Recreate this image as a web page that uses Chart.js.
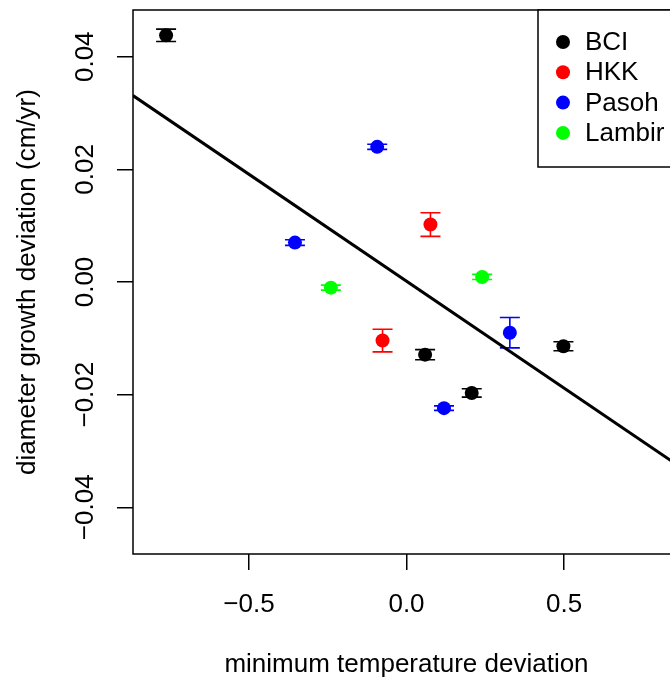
<!DOCTYPE html>
<html>
<head>
<meta charset="utf-8">
<script src="https://cdn.jsdelivr.net/npm/chart.js@4.4.1/dist/chart.umd.min.js"></script>
<style>
  html, body { margin: 0; padding: 0; overflow: hidden; background: #fff; }
</style>
</head>
<body>
<canvas id="myChart" width="690" height="680"></canvas>
<script>
// sites shown in the legend, with their point colours
const siteNames = ['BCI', 'HKK', 'Pasoh', 'Lambir'];
const siteColors = ['#000000', '#ff0000', '#0000ff', '#00ff00'];

// minimum temperature deviation per census interval (x)
const bciX = [-0.763, 0.059, 0.207, 0.498];
const hkkX = [0.076, -0.076];
const pasohX = [-0.093, -0.354, 0.119, 0.328];
const lambirX = [-0.240, 0.240];

// diameter growth deviation in cm/yr (y)
const bciY = [0.0438, -0.0129, -0.0197, -0.0114];
const hkkY = [0.0102, -0.0104];
const pasohY = [0.0240, 0.0070, -0.0224, -0.0090];
const lambirY = [-0.0010, 0.0009];

// half length of the error bars
const bciErr = [0.0011, 0.0009, 0.00075, 0.0008];
const hkkErr = [0.0021, 0.0020];
const pasohErr = [0.00045, 0.0005, 0.0004, 0.0027];
const lambirErr = [0.00045, 0.00045];

// fitted regression line, end points
const fitX = [-0.868, 0.868];
const fitY = [0.0331, -0.0328];

// axis ticks
const xTicks = [-0.5, 0, 0.5];
const yTicks = [-0.04, -0.02, 0, 0.02, 0.04];

const FONT = '"Liberation Sans", Arial, Helvetica, sans-serif';

// join x and y lists into {x, y} points
function toPoints (xs, ys) { return xs.map((x, i) => ({ x: x, y: ys[i] })); }

// R prints a real minus sign
function minus (s) { return s.replace('-', '\u2212'); }

function siteDataset (i, xs, ys, errs) {
    return {
        type: 'scatter',
        label: siteNames[i],
        data: toPoints(xs, ys),
        errors: errs,
        backgroundColor: siteColors[i],
        borderColor: siteColors[i],
        borderWidth: 0,
        pointRadius: 7,
        pointHoverRadius: 7,
    };
}

// vertical error bars with caps, under the points
const errorBars = {
    id: 'errorBars',
    beforeDatasetsDraw (chart) {
        const ctx = chart.ctx, xs = chart.scales.x, ys = chart.scales.y;
        chart.data.datasets.forEach((ds) => {
            if (!ds.errors) return;
            ctx.save();
            ctx.strokeStyle = ds.borderColor; ctx.lineWidth = 1.6;
            ds.data.forEach((p, i) => {
                const px = xs.getPixelForValue(p.x);
                const top = ys.getPixelForValue(p.y + ds.errors[i]);
                const bot = ys.getPixelForValue(p.y - ds.errors[i]);
                ctx.beginPath();
                ctx.moveTo(px, top); ctx.lineTo(px, bot);
                ctx.moveTo(px - 10, top); ctx.lineTo(px + 10, top);
                ctx.moveTo(px - 10, bot); ctx.lineTo(px + 10, bot);
                ctx.stroke();
            });
            ctx.restore();
        });
    }
};

// plot box and the boxed legend in the top right corner
const boxLegend = {
    id: 'boxLegend',
    afterDraw (chart) {
        const ctx = chart.ctx, a = chart.chartArea;
        ctx.save();
        ctx.strokeStyle = '#000'; ctx.lineWidth = 1.5;
        ctx.strokeRect(a.left, a.top, a.right - a.left, a.bottom - a.top);
        ctx.fillStyle = '#fff';
        ctx.fillRect(538, a.top, a.right - 538, 157);
        ctx.strokeRect(538, a.top, a.right - 538, 157);
        ctx.font = '26px ' + FONT;
        ctx.textBaseline = 'middle';
        siteNames.forEach((name, i) => {
            const y = a.top + 32 + i * 30.3;
            ctx.fillStyle = siteColors[i];
            ctx.beginPath(); ctx.arc(563, y, 7, 0, Math.PI * 2); ctx.fill();
            ctx.fillStyle = '#000';
            ctx.fillText(name, 585, y + 1);
        });
        ctx.restore();
    }
};

new Chart('myChart', {
    data: {
        datasets: [
            {
                type: 'line',
                label: 'fit',
                data: toPoints(fitX, fitY),
                borderColor: '#000',
                borderWidth: 3,
                pointRadius: 0,
                fill: false,
            },
            siteDataset(0, bciX, bciY, bciErr),
            siteDataset(1, hkkX, hkkY, hkkErr),
            siteDataset(2, pasohX, pasohY, pasohErr),
            siteDataset(3, lambirX, lambirY, lambirErr),
        ]
    },
    options: {
        responsive: false,
        animation: false,
        devicePixelRatio: 1,
        layout: { padding: { left: 0, top: 10, right: 10, bottom: 0 } },
        plugins: { legend: { display: false }, tooltip: { enabled: false } },
        scales: {
            x: {
                type: 'linear',
                min: -0.868, max: 0.868,
                afterBuildTicks: (s) => { s.ticks = xTicks.map((v) => ({ value: v })); },
                afterFit: (s) => { s.height = 126; s.paddingLeft = 0; s.paddingRight = 0; },
                border: { display: false },
                grid: { drawOnChartArea: false, tickLength: 16, color: '#000', lineWidth: 1.5 },
                ticks: {
                    color: '#000', padding: 19, maxRotation: 0,
                    font: { family: FONT, size: 26 },
                    callback: (v) => minus(v.toFixed(1)),
                },
                title: {
                    display: true, text: 'minimum temperature deviation', color: '#000',
                    font: { family: FONT, size: 26, lineHeight: 1.2 },
                    padding: { top: 0, bottom: 0 },
                },
            },
            y: {
                type: 'linear',
                min: -0.0483, max: 0.0483,
                afterBuildTicks: (s) => { s.ticks = yTicks.map((v) => ({ value: v })); },
                afterFit: (s) => { s.width = 133; s.paddingTop = 0; s.paddingBottom = 0; },
                border: { display: false },
                grid: { drawOnChartArea: false, tickLength: 16, color: '#000', lineWidth: 1.5 },
                ticks: {
                    color: '#000', padding: -2, autoSkip: false,
                    minRotation: 90, maxRotation: 90, crossAlign: 'center',
                    font: { family: FONT, size: 26 },
                    callback: (v) => minus(v.toFixed(2)),
                },
                title: {
                    display: true, text: 'diameter growth deviation (cm/yr)', color: '#000',
                    font: { family: FONT, size: 26, lineHeight: 1.2 },
                    padding: { top: 12.5, bottom: 0 },
                },
            },
        },
    },
    plugins: [errorBars, boxLegend],
});
</script>
</body>
</html>
